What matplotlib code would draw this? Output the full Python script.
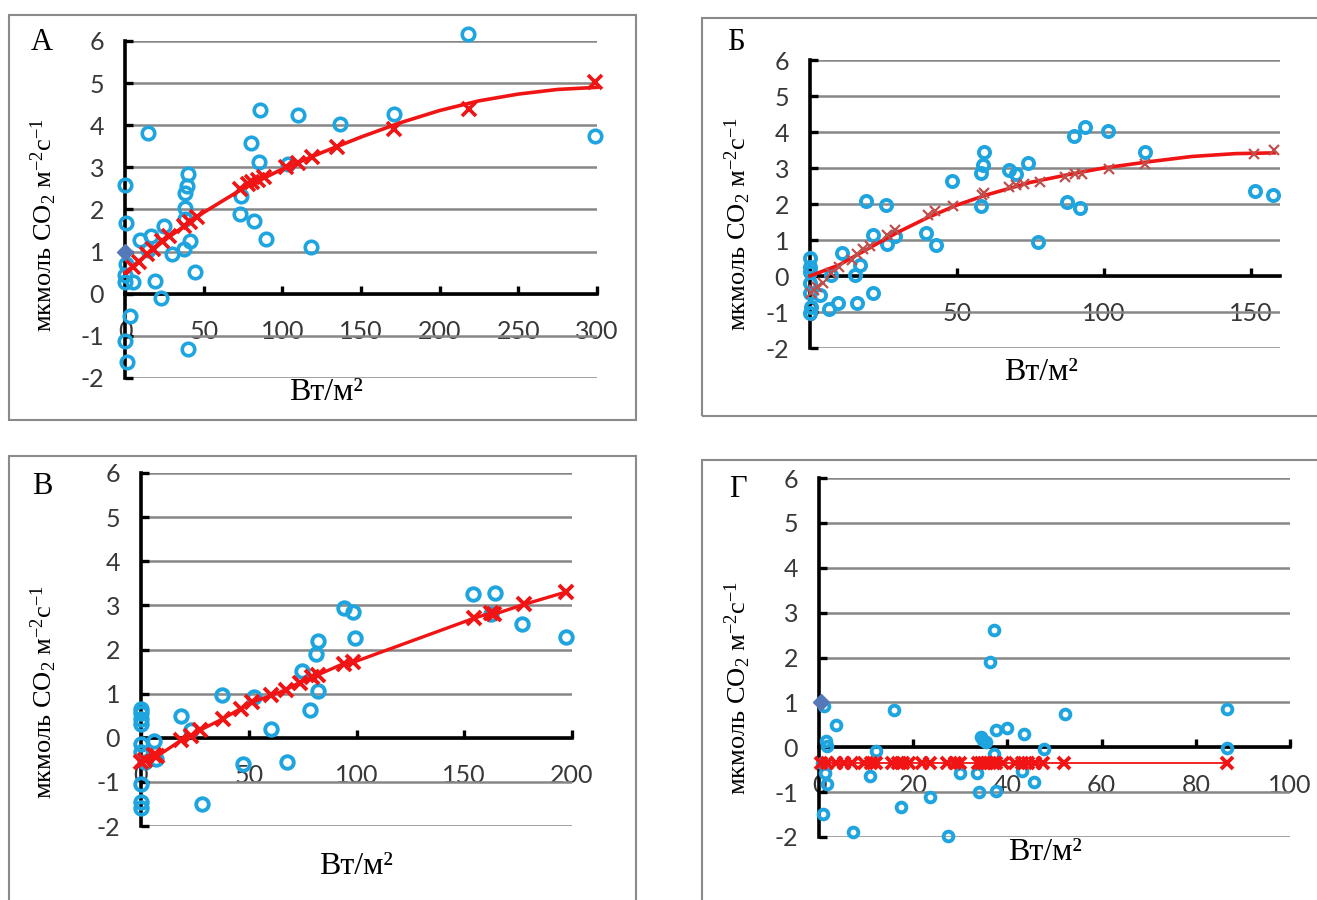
# Light-response curves of CO2 flux, four panels (А, Б, В, Г)
import matplotlib
matplotlib.use("Agg")
import matplotlib.pyplot as plt
from matplotlib.patches import Rectangle

plt.rcParams['axes.unicode_minus'] = False
plt.rcParams['mathtext.fontset'] = 'custom'
plt.rcParams['mathtext.rm'] = 'Liberation Serif'
plt.rcParams['mathtext.it'] = 'Liberation Serif:italic'

# ---- Panel А ----
a_circ_x = [0, 0.5, 0.5, 0, 0, 3, 0, 1, 9.4, 16.7, 14.8, 24.7, 18.8, 22.6, 30, 5.4, 14.5,
            40.3, 39.5, 38, 38.4, 38.4, 37.3, 41.4, 44.3, 39.8, 74, 73, 80, 85.7, 85.4, 81.7,
            89.7, 103.4, 109.9, 118, 136.5, 171, 218, 298.7]
a_circ_y = [2.57, 1.68, 0.71, 0.45, 0.28, -0.54, -1.12, -1.62, 1.28, 1.38, 3.81, 1.6, 0.3, -0.1, 0.95, 0.28, 1.04,
            2.85, 2.55, 2.39, 2.04, 1.78, 1.07, 1.26, 0.51, -1.3, 2.33, 1.9, 3.57, 4.36, 3.12, 1.72,
            1.31, 3.08, 4.24, 1.1, 4.03, 4.27, 6.17, 3.75]
a_x_x = [5.4, 8.6, 14, 17.5, 23.4, 28, 37.3, 41.4, 45.7, 73, 78.4, 81, 84.3, 88.6, 102.6, 110, 118.7, 134.8, 171, 218.6, 299]
a_x_y = [0.63, 0.75, 0.95, 1.07, 1.26, 1.38, 1.62, 1.7, 1.82, 2.49, 2.6, 2.65, 2.69, 2.77, 3.0, 3.1, 3.24, 3.48, 3.91, 4.39, 5.02]
a_fit_x = [0, 25, 50, 75, 100, 125, 150, 175, 200, 225, 250, 275, 300]
a_fit_y = [0.5, 1.27, 1.93, 2.5, 2.96, 3.35, 3.72, 4.06, 4.35, 4.58, 4.74, 4.85, 4.9]
a_diam = [0, 1.0]

# ---- Panel Б ----
b_circ_x = [0, 0, 0, 0, 0, 0.5, 0, 3.3, 7, 6.4, 9.7, 11, 15.2, 17, 15.9, 21.3, 18.9, 21.3, 26, 26.3,
            29, 39.5, 42.8, 48.4, 58.3, 58.2, 59, 59.3, 67.6, 70.1, 74.2, 77.5, 87.5, 90, 92, 93.5,
            101.4, 114, 151.5, 157.5]
b_circ_y = [0.49, 0.26, 0.1, -0.2, -0.48, -0.85, -1.04, -0.53, 0.03, -0.93, -0.74, 0.63, 0.03, 0.31, -0.76, -0.48, 2.07, 1.14, 1.98, 0.88,
            1.1, 1.19, 0.85, 2.65, 1.95, 2.86, 3.07, 3.44, 2.94, 2.84, 3.14, 0.94, 2.05, 3.9, 1.89, 4.14,
            4.04, 3.44, 2.37, 2.26]
b_x_x = [0.4, 1.5, 2.5, 4.3, 7, 10, 14.2, 16, 18, 20.3, 26.3, 28.9, 40, 42.7, 48.6, 58.7, 59.3, 67.6,
         70, 73, 78.2, 86.8, 90.3, 92.5, 101.7, 114, 151.2, 158]
b_x_y = [-0.48, -0.38, -0.3, -0.2, 0.07, 0.26, 0.45, 0.61, 0.74, 0.84, 1.14, 1.28, 1.7, 1.81, 1.95, 2.26, 2.3, 2.47,
         2.52, 2.56, 2.6, 2.75, 2.82, 2.84, 2.96, 3.1, 3.4, 3.49]
b_fit_x = [0, 10, 20, 30, 40, 50, 60, 75, 90, 100, 115, 130, 145, 158]
b_fit_y = [0.0, 0.31, 0.77, 1.22, 1.62, 1.97, 2.25, 2.6, 2.85, 3.0, 3.17, 3.32, 3.4, 3.42]

# ---- Panel В ----
c_circ_x = [0, 0, 0, 0, 0, 0, 0, 0, 0, 2, 6.2, 6.8, 18.5, 23.4, 28.3, 37.7, 47.4, 52.3, 60.1, 67.9,
            74.7, 78.4, 82.3, 82.3, 81.4, 94.2, 98.5, 99.5, 154, 164.5, 162.5, 176.6, 197]
c_circ_y = [0.66, 0.55, 0.43, 0.32, -0.14, -0.32, -1.04, -1.46, -1.6, -0.55, -0.08, -0.48, 0.49, 0.18, -1.51, 0.96, -0.6, 0.92, 0.2, -0.55,
            1.51, 0.62, 1.07, 2.2, 1.9, 2.94, 2.85, 2.26, 3.25, 3.29, 2.81, 2.57, 2.28]
c_x_x = [0, 2, 5.9, 7.5, 18.5, 23.4, 27.3, 38, 46.2, 51.7, 60.5, 67.3, 73.6, 79.4, 82.3, 94, 98.5,
         154.6, 162.5, 164, 177.6, 197]
c_x_y = [-0.55, -0.5, -0.4, -0.42, -0.06, 0.05, 0.17, 0.43, 0.66, 0.81, 0.96, 1.09, 1.25, 1.37, 1.43, 1.68, 1.71,
         2.71, 2.83, 2.8, 3.02, 3.3]

# ---- Panel Г ----
d_circ_x = [1.1, 1.5, 1.6, 0.7, 1.3, 1.8, 0.9, 3.6, 7.3, 10.9, 12.2, 16, 17.5, 23.6, 27.4, 30, 33.6, 34,
            34.3, 34.8, 35.4, 36.4, 37.1, 37.2, 37.5, 37.6, 40, 43.1, 43.6, 45.6, 47.7, 52.2, 86.7, 86.7]
d_circ_y = [0.93, 0.13, 0.02, -0.35, -0.57, -0.83, -1.49, 0.49, -1.88, -0.63, -0.09, 0.83, -1.33, -1.1, -1.97, -0.57, -0.57, -1.0,
            0.22, 0.16, 0.11, 1.9, 2.62, -0.16, -0.97, 0.39, 0.44, -0.53, 0.3, -0.77, -0.03, 0.74, 0.86, -0.01]
d_x_x = [0.4, 1.8, 3.6, 5.3, 7.1, 9.5, 11.1, 12, 15.6, 16.7, 17.8, 19.1, 21.8, 23.6, 27.1, 28.9, 30,
         33.8, 34.5, 35.1, 35.7, 36.4, 37.1, 37.6, 39.1, 41.6, 43.1, 44.4, 45.9, 47.6, 52, 86.7]
d_x_y = [-0.36, -0.36, -0.36, -0.36, -0.36, -0.36, -0.36, -0.36, -0.36, -0.36, -0.36, -0.36, -0.36, -0.36, -0.36, -0.36, -0.36,
         -0.36, -0.36, -0.36, -0.36, -0.36, -0.36, -0.36, -0.36, -0.36, -0.36, -0.36, -0.36, -0.36, -0.36, -0.36]
d_diam = [0.5, 1.0]

y_ticks = [-2, -1, 0, 1, 2, 3, 4, 5, 6]
y_label = 'мкмоль CO$_2$ м$^{-2}$с$^{-1}$'
x_label = 'Вт/м²'

BLUE = '#1ea5df'
RED = '#f01414'
W, H = 1317, 900
fig = plt.figure(figsize=(W / 100, H / 100), dpi=100)


def make_axes(left, top, right, bottom, xmax, xticks):
    ax = fig.add_axes([left / W, 1 - bottom / H, (right - left) / W, (bottom - top) / H])
    ax.set_xlim(0, xmax)
    ax.set_ylim(-2, 6)
    ax.set_xticks(xticks)
    ax.set_yticks(y_ticks)
    ax.spines['top'].set_visible(False)
    ax.spines['right'].set_visible(False)
    ax.spines['bottom'].set_position(('data', 0))
    ax.spines['bottom'].set_linewidth(2.6)
    ax.spines['left'].set_linewidth(2.6)
    ax.spines['bottom'].set_zorder(2.6)
    ax.yaxis.grid(True, color='#878787', lw=1.8)
    ax.set_axisbelow(True)
    ax.tick_params(axis='both', direction='in', length=6, width=2.4, labelsize=18,
                   labelcolor='#383838', labelfontfamily='Lato')
    ax.tick_params(axis='y', pad=15)
    ax.tick_params(axis='x', pad=19)
    ax.patch.set_alpha(0)
    return ax


def circles(ax, xs, ys, ms, mew):
    ax.plot(xs, ys, linestyle='none', marker='o', ms=ms, mfc='none', mec=BLUE, mew=mew,
            clip_on=False, zorder=4)


def panel_text(letter, lx, ly, yx, yy, xx, xy):
    fig.text(lx / W, 1 - ly / H, letter, ha='center', va='center', fontsize=22, family='Liberation Serif')
    fig.text(yx / W, 1 - yy / H, y_label, rotation=90, ha='center', va='center', fontsize=19,
             family='Liberation Serif')
    fig.text(xx / W, 1 - xy / H, x_label, ha='center', va='center', fontsize=23, family='Liberation Serif')


# panel frames
for (l, t, r, b) in [(9, 15, 636, 420), (702, 18, 1330, 416), (9, 456, 636, 920), (702, 460, 1330, 920)]:
    fig.add_artist(Rectangle((l / W, 1 - b / H), (r - l) / W, (b - t) / H, transform=fig.transFigure,
                             fill=False, ec='#8a8a8a', lw=1.5))

# А
ax = make_axes(125, 41, 597, 378, 300, [0, 50, 100, 150, 200, 250, 300])
circles(ax, a_circ_x, a_circ_y, 9, 2.6)
ax.plot(a_fit_x, a_fit_y, color=RED, lw=2.6, zorder=5, clip_on=False)
ax.plot(a_x_x, a_x_y, linestyle='none', marker='x', ms=10, mew=2.6, color=RED, zorder=5, clip_on=False)
ax.plot(a_diam[0], a_diam[1], marker='D', ms=8, color='#5579b8', zorder=6, clip_on=False)
panel_text('А', 42, 42, 44, 225, 326, 393)

# Б
ax = make_axes(810, 60, 1280, 348, 160, [0, 50, 100, 150])
circles(ax, b_circ_x, b_circ_y, 8, 2.8)
ax.plot(b_fit_x, b_fit_y, color=RED, lw=2.6, zorder=5, clip_on=False)
ax.plot(b_x_x, b_x_y, linestyle='none', marker='x', ms=7, mew=1.6, color='#c0504d', zorder=5, clip_on=False)
panel_text('Б', 736, 42, 738, 224, 1041, 373)

# В
ax = make_axes(141, 473, 572, 826, 200, [0, 50, 100, 150, 200])
circles(ax, c_circ_x, c_circ_y, 9, 2.8)
ax.plot(c_x_x, c_x_y, color=RED, lw=2.4, marker='x', ms=10, mew=2.8, zorder=5, clip_on=False)
panel_text('В', 42, 487, 44, 692, 356, 867)

# Г
ax = make_axes(819, 478, 1290, 837, 100, [0, 20, 40, 60, 80, 100])
circles(ax, d_circ_x, d_circ_y, 7, 2.8)
ax.plot(d_x_x, d_x_y, color=RED, lw=1.3, marker='x', ms=8, mew=2.8, zorder=5, clip_on=False)
ax.plot(d_diam[0], d_diam[1], marker='D', ms=8, color='#5579b8', zorder=6, clip_on=False)
panel_text('Г', 738, 490, 738, 688, 1045, 852)

fig.savefig('out.png', dpi=100)
